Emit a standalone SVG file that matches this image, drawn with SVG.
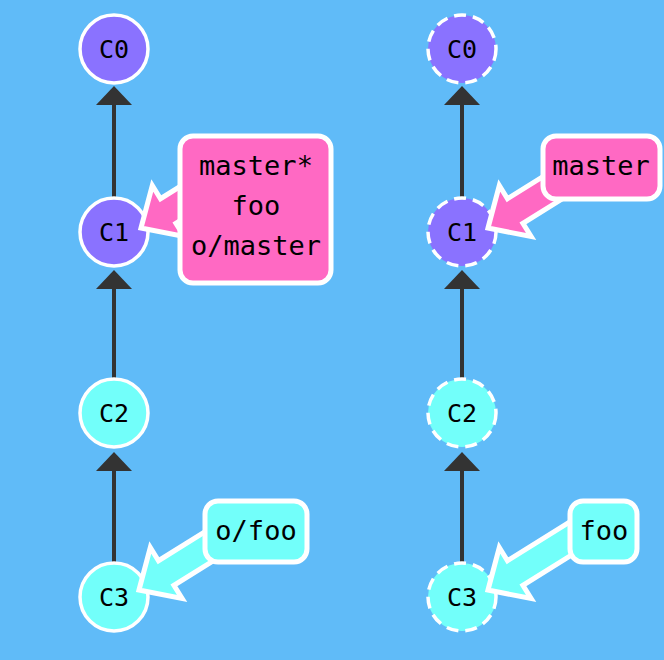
<svg xmlns="http://www.w3.org/2000/svg" width="664" height="660" viewBox="0 0 664 660">
  <style>
    .bg { fill: #60bbf8; }
    .edge { stroke: #333333; stroke-width: 4; fill: none; }
    .head { fill: #333333; }
    .commit { stroke: #ffffff; stroke-width: 3.5; }
    .ghost { stroke-dasharray: 12 7; }
    .purple { fill: #8a72ff; }
    .cyan { fill: #72fffa; }
    .pink { fill: #ff69c3; }
    .clabel { font-family: "DejaVu Sans Mono", "Liberation Mono", monospace; font-size: 25px; text-anchor: middle; fill: #000000; }
    .blabel { font-family: "DejaVu Sans Mono", "Liberation Mono", monospace; font-size: 27px; text-anchor: middle; fill: #000000; }
    .box { stroke: #ffffff; stroke-width: 5; }
    .pointer { stroke: #ffffff; stroke-width: 5; stroke-linejoin: miter; }
  </style>
  <defs>
    <!-- fat pointer arrow, tip at origin, tail running up and to the right -->
    <polygon id="ptr" points="0,0 11.3,-42.5 19.5,-29.3 85.8,-70.6 101.2,-46 34.9,-4.7 43.1,8.5"/>
  </defs>

  <rect class="bg" x="0" y="0" width="664" height="660"/>

  <!-- parent links -->
  <g id="connectors">
    <line class="edge" x1="114" y1="100" x2="114" y2="232"/>
    <polygon class="head" points="114,86 96,105 132,105"/>
    <line class="edge" x1="114" y1="284" x2="114" y2="413"/>
    <polygon class="head" points="114,270 96,289 132,289"/>
    <line class="edge" x1="114" y1="466" x2="114" y2="597"/>
    <polygon class="head" points="114,452 96,471 132,471"/>

    <line class="edge" x1="462" y1="100" x2="462" y2="232"/>
    <polygon class="head" points="462,86 444,105 480,105"/>
    <line class="edge" x1="462" y1="284" x2="462" y2="413"/>
    <polygon class="head" points="462,270 444,289 480,289"/>
    <line class="edge" x1="462" y1="466" x2="462" y2="597"/>
    <polygon class="head" points="462,452 444,471 480,471"/>
  </g>

  <!-- left history -->
  <g id="c0-left">
    <circle class="commit purple" cx="114" cy="49" r="34"/>
    <text class="clabel" x="114" y="58">C0</text>
  </g>
  <g id="c1-left">
    <circle class="commit purple" cx="114" cy="232" r="34"/>
    <text class="clabel" x="114" y="241">C1</text>
  </g>
  <g id="c2-left">
    <circle class="commit cyan" cx="114" cy="413" r="34"/>
    <text class="clabel" x="114" y="422">C2</text>
  </g>
  <g id="c3-left">
    <circle class="commit cyan" cx="114" cy="597" r="34"/>
    <text class="clabel" x="114" y="606">C3</text>
  </g>

  <!-- right history (dashed outlines) -->
  <g id="c0-right">
    <circle class="commit ghost purple" cx="462" cy="49" r="34"/>
    <text class="clabel" x="462" y="58">C0</text>
  </g>
  <g id="c1-right">
    <circle class="commit ghost purple" cx="462" cy="232" r="34"/>
    <text class="clabel" x="462" y="241">C1</text>
  </g>
  <g id="c2-right">
    <circle class="commit ghost cyan" cx="462" cy="413" r="34"/>
    <text class="clabel" x="462" y="422">C2</text>
  </g>
  <g id="c3-right">
    <circle class="commit ghost cyan" cx="462" cy="597" r="34"/>
    <text class="clabel" x="462" y="606">C3</text>
  </g>

  <!-- branch labels -->
  <g id="branch-master-left">
    <use href="#ptr" class="pointer pink" x="141" y="228"/>
    <rect class="box pink" x="180" y="136" width="151" height="147" rx="13"/>
    <text class="blabel" x="256" y="175">master*</text>
    <text class="blabel" x="256" y="215">foo</text>
    <text class="blabel" x="256" y="255">o/master</text>
  </g>
  <g id="branch-ofoo-left">
    <use href="#ptr" class="pointer cyan" x="139" y="590"/>
    <rect class="box cyan" x="205" y="501" width="102" height="61" rx="13"/>
    <text class="blabel" x="256" y="540">o/foo</text>
  </g>
  <g id="branch-master-right">
    <use href="#ptr" class="pointer pink" x="488" y="228"/>
    <rect class="box pink" x="543" y="136" width="117" height="63" rx="13"/>
    <text class="blabel" x="601" y="175">master</text>
  </g>
  <g id="branch-foo-right">
    <use href="#ptr" class="pointer cyan" x="488" y="590"/>
    <rect class="box cyan" x="570" y="501" width="67" height="61" rx="13"/>
    <text class="blabel" x="604" y="540">foo</text>
  </g>
</svg>
